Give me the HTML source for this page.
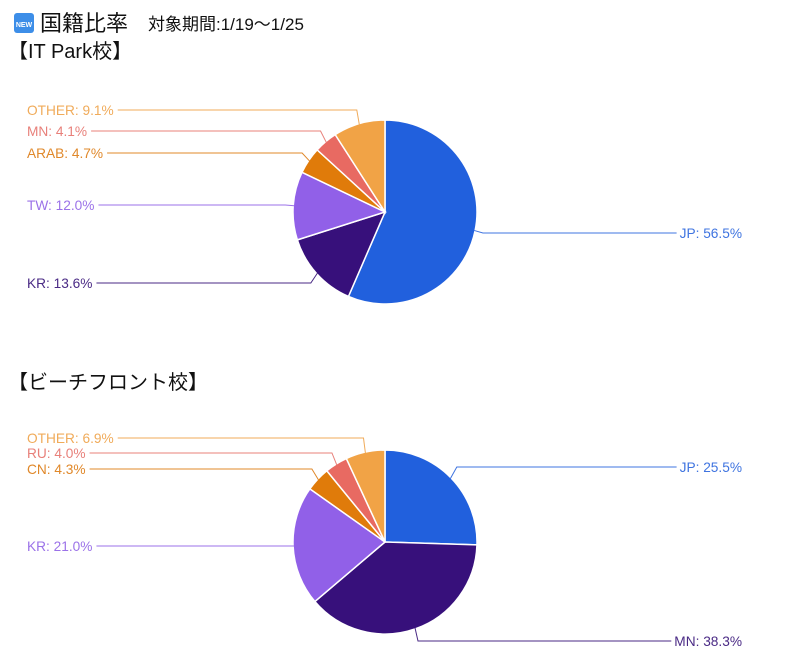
<!DOCTYPE html>
<html><head><meta charset="utf-8"><style>
html,body{margin:0;padding:0;background:#fff;width:803px;height:670px;overflow:hidden}
svg{display:block}
</style></head><body>
<svg id="s" width="803" height="670" xmlns="http://www.w3.org/2000/svg" font-family="'Liberation Sans','Noto Sans CJK JP',sans-serif">
<rect x="14" y="13" width="20" height="20" rx="3" fill="#3d8ee8"/>
<text x="24" y="27" font-size="7" fill="#fff" text-anchor="middle" font-weight="bold">NEW</text>
<text x="40" y="31" font-size="22" fill="#111">国籍比率</text>
<text x="148" y="30" font-size="17" fill="#111">対象期間:1/19〜1/25</text>
<text x="8" y="58" font-size="20" fill="#111">【IT Park校】</text>
<text x="8" y="389" font-size="20" fill="#111">【ビーチフロント校】</text>
<g id="g"></g>
</svg>
<script>
var g=document.getElementById('g'),NS='http://www.w3.org/2000/svg';
function el(t,a,txt){var e=document.createElementNS(NS,t);for(var k in a)e.setAttribute(k,a[k]);if(txt)e.textContent=txt;g.appendChild(e);return e;}
var C={jp:['#2160dd','#3f74e0'],dk:['#37107b','#4a2a85'],lp:['#9160e8','#9b72e8'],or:['#e07b0a','#e0882a'],rd:['#e86a62','#e8807a'],lo:['#f1a346','#f0ab5a']};
function pie(cx,cy,r,d){
 var a0=0;
 d.forEach(function(s){
  var a1=a0+s.v/100*2*Math.PI;
  var x0=cx+r*Math.sin(a0),y0=cy-r*Math.cos(a0),x1=cx+r*Math.sin(a1),y1=cy-r*Math.cos(a1);
  var big=(a1-a0)>Math.PI?1:0;
  el('path',{d:'M'+cx+','+cy+'L'+x0+','+y0+'A'+r+','+r+' 0 '+big+' 1 '+x1+','+y1+'Z',fill:C[s.c][0],stroke:'#fff','stroke-width':1.5});
  var am=(a0+a1)/2,px=cx+(r-1)*Math.sin(am),py=cy-(r-1)*Math.cos(am);
  var ex=cx+(r+8)*Math.sin(am),col=C[s.c][1];
  var lbl=s.n+': '+s.v.toFixed(1)+'%';
  var right=Math.sin(am)>0;
  if(right){
   var t=el('text',{x:742,y:s.y+5,'font-size':13.7,fill:col,'text-anchor':'end'},lbl);
   var w=t.getComputedTextLength();
   el('polyline',{points:px+','+py+' '+ex+','+s.y+' '+(742-w-3)+','+s.y,fill:'none',stroke:col,'stroke-width':1});
  }else{
   var t=el('text',{x:27,y:s.y+5,'font-size':13.7,fill:col},lbl);
   var w=t.getComputedTextLength();
   el('polyline',{points:px+','+py+' '+ex+','+s.y+' '+(27+w+4)+','+s.y,fill:'none',stroke:col,'stroke-width':1});
  }
  a0=a1;
 });
}
pie(385,212,92,[{n:'JP',v:56.5,c:'jp',y:233},{n:'KR',v:13.6,c:'dk',y:283},{n:'TW',v:12.0,c:'lp',y:205},{n:'ARAB',v:4.7,c:'or',y:153},{n:'MN',v:4.1,c:'rd',y:131},{n:'OTHER',v:9.1,c:'lo',y:110}]);
pie(385,542,92,[{n:'JP',v:25.5,c:'jp',y:467},{n:'MN',v:38.3,c:'dk',y:641},{n:'KR',v:21.0,c:'lp',y:546},{n:'CN',v:4.3,c:'or',y:469},{n:'RU',v:4.0,c:'rd',y:453},{n:'OTHER',v:6.9,c:'lo',y:438}]);
</script>
</body></html>
